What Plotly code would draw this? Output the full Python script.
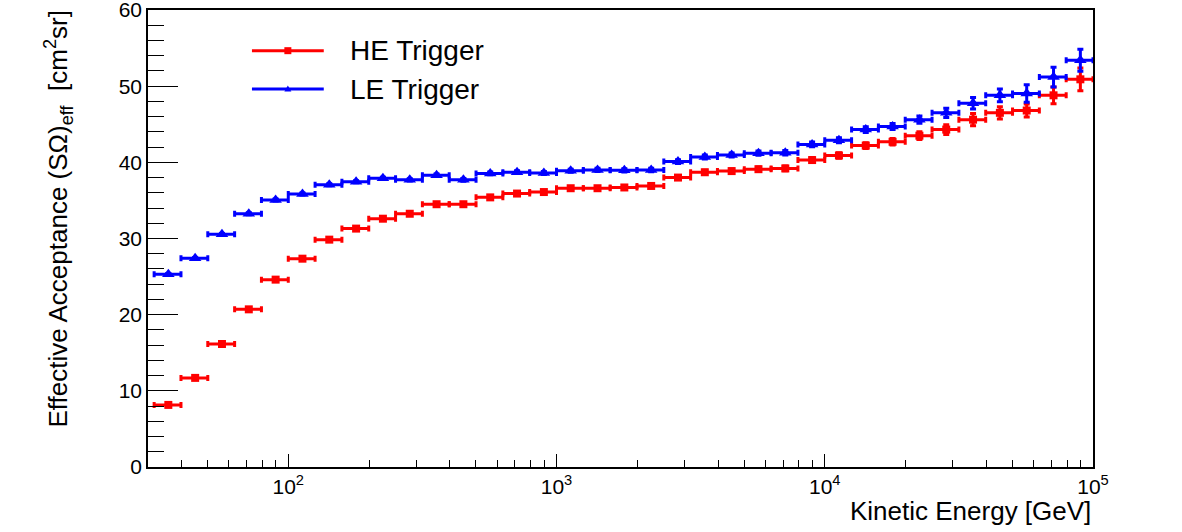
import plotly.graph_objects as go

# ---------------- data ----------------
# bin edges in log10(E/GeV), 10 bins per decade
log_edges = [1.5, 1.6, 1.7, 1.8, 1.9, 2.0, 2.1, 2.2, 2.3, 2.4, 2.5, 2.6, 2.7, 2.8, 2.9,
             3.0, 3.1, 3.2, 3.3, 3.4, 3.5, 3.6, 3.7, 3.8, 3.9, 4.0, 4.1, 4.2, 4.3, 4.4,
             4.5, 4.6, 4.7, 4.8, 4.9, 5.0]

he_values = [8.15, 11.7, 16.15, 20.7, 24.6, 27.35, 29.85, 31.3, 32.6, 33.25,
             34.5, 34.5, 35.4, 35.9, 36.1, 36.6, 36.6, 36.7, 36.9, 38.0,
             38.7, 38.85, 39.1, 39.2, 40.3, 40.9, 42.2, 42.7, 43.5, 44.3,
             45.6, 46.5, 46.8, 48.8, 50.9]
he_errors = [0.10, 0.10, 0.12, 0.12, 0.13, 0.14, 0.14, 0.15, 0.15, 0.16,
             0.16, 0.17, 0.18, 0.19, 0.20, 0.20, 0.21, 0.22, 0.23, 0.25,
             0.26, 0.27, 0.29, 0.31, 0.33, 0.35, 0.38, 0.42, 0.50, 0.65,
             0.80, 0.80, 0.85, 1.10, 1.50]

le_values = [25.3, 27.4, 30.55, 33.25, 35.05, 35.85, 37.05, 37.45, 37.9, 37.7,
             38.3, 37.7, 38.55, 38.7, 38.6, 38.9, 39.0, 38.95, 39.0, 40.1,
             40.7, 40.95, 41.2, 41.25, 42.35, 42.9, 44.3, 44.7, 45.6, 46.5,
             47.75, 48.8, 49.05, 51.2, 53.4]
le_errors = [0.10, 0.10, 0.11, 0.12, 0.12, 0.13, 0.14, 0.14, 0.15, 0.15,
             0.16, 0.17, 0.18, 0.18, 0.19, 0.20, 0.21, 0.22, 0.23, 0.24,
             0.25, 0.26, 0.28, 0.30, 0.32, 0.34, 0.37, 0.40, 0.48, 0.60,
             0.75, 0.83, 1.15, 1.30, 1.45]

series_names = ["HE Trigger", "LE Trigger"]
x_major_ticks = [1e2, 1e3, 1e4, 1e5]
x_major_labels = ["10<sup>2</sup>", "10<sup>3</sup>", "10<sup>4</sup>", "10<sup>5</sup>"]
x_minor_ticks = [m * 10 ** d for d in range(1, 5) for m in range(2, 10) if 30 < m * 10 ** d < 1e5]

# ---------------- derived ----------------
edges = [10 ** e for e in log_edges]
lo = edges[:-1]
hi = edges[1:]
centers = [(a + b) / 2 for a, b in zip(lo, hi)]
err_plus = [b - c for b, c in zip(hi, centers)]
err_minus = [c - a for a, c in zip(lo, centers)]

RED = "#FF0000"
BLUE = "#0000FF"
FONT = "Liberation Sans"

fig = go.Figure()

for vals, errs, color, symbol, size, name in [
    (he_values, he_errors, RED, "square", 8, series_names[0]),
    (le_values, le_errors, BLUE, "triangle-up", 11, series_names[1]),
]:
    fig.add_trace(go.Scatter(
        x=centers, y=vals, mode="markers", name=name, showlegend=False,
        marker=dict(color=color, symbol=symbol, size=size, line=dict(width=0)),
        error_x=dict(type="data", symmetric=False, array=err_plus, arrayminus=err_minus,
                     color=color, thickness=3, width=3),
        error_y=dict(type="data", array=errs, color=color, thickness=3, width=3),
    ))

# ---------------- manual legend (ROOT style) ----------------
legend_rows = [(0.911, RED, "square"), (0.827, BLUE, "triangle")]
shapes = []
annotations = []
for (ypos, color, kind), name in zip(legend_rows, series_names):
    shapes.append(dict(type="line", xref="paper", yref="paper", x0=0.110, x1=0.186,
                       y0=ypos, y1=ypos, line=dict(color=color, width=3)))
    if kind == "square":
        shapes.append(dict(type="rect", xref="paper", yref="paper",
                           xsizemode="pixel", ysizemode="pixel", xanchor=0.148, yanchor=ypos,
                           x0=-3.5, x1=3.5, y0=-3.5, y1=3.5,
                           fillcolor=color, line=dict(width=0)))
    else:
        shapes.append(dict(type="path", xref="paper", yref="paper",
                           xsizemode="pixel", ysizemode="pixel", xanchor=0.148, yanchor=ypos,
                           path="M-3.5,-2.5 L3.5,-2.5 L0,3.5 Z",
                           fillcolor=color, line=dict(width=0)))
    annotations.append(dict(text=name, xref="paper", yref="paper", x=0.212, y=ypos,
                            xanchor="left", yanchor="middle", showarrow=False,
                            font=dict(family=FONT, size=28, color="black")))

annotations.append(dict(text="Effective Acceptance (SΩ)<sub>eff</sub>  [cm<sup>2</sup>sr]",
                        xref="paper", yref="paper", x=0, y=1, xanchor="center", yanchor="top",
                        xshift=-90, yshift=1, textangle=-90, showarrow=False,
                        font=dict(family=FONT, size=26, color="black")))
annotations.append(dict(text="Kinetic Energy [GeV]", xref="paper", yref="paper",
                        x=1, y=-0.096, xanchor="right", yanchor="middle", showarrow=False,
                        font=dict(family=FONT, size=26, color="black")))

fig.update_layout(
    width=1182, height=532,
    margin=dict(l=148, r=89, t=10, b=65, autoexpand=False),
    paper_bgcolor="white", plot_bgcolor="white",
    font=dict(family=FONT, size=21, color="black"),
    showlegend=False,
    shapes=shapes, annotations=annotations,
    xaxis=dict(type="log", range=[1.4771, 5.0], showgrid=False, zeroline=False,
               automargin=False, ticklabeloverflow="allow",
               showline=True, linecolor="black", linewidth=1.5, mirror=True,
               ticks="inside", ticklen=13, tickwidth=1.2, tickcolor="black",
               tickmode="array", tickvals=x_major_ticks, ticktext=x_major_labels,
               minor=dict(ticks="inside", ticklen=7, tickwidth=1.2, tickcolor="black",
                          tickmode="array", tickvals=x_minor_ticks, showgrid=False)),
    yaxis=dict(range=[0, 60], showgrid=False, zeroline=False,
               automargin=False, ticklabeloverflow="allow",
               showline=True, linecolor="black", linewidth=1.5, mirror=True,
               ticks="inside", ticklen=30, tickwidth=1.2, tickcolor="black",
               tickmode="linear", tick0=0, dtick=10,
               minor=dict(ticks="inside", ticklen=16, tickwidth=1.2, tickcolor="black",
                          dtick=2, showgrid=False)),
)

fig.write_html("out.html")
